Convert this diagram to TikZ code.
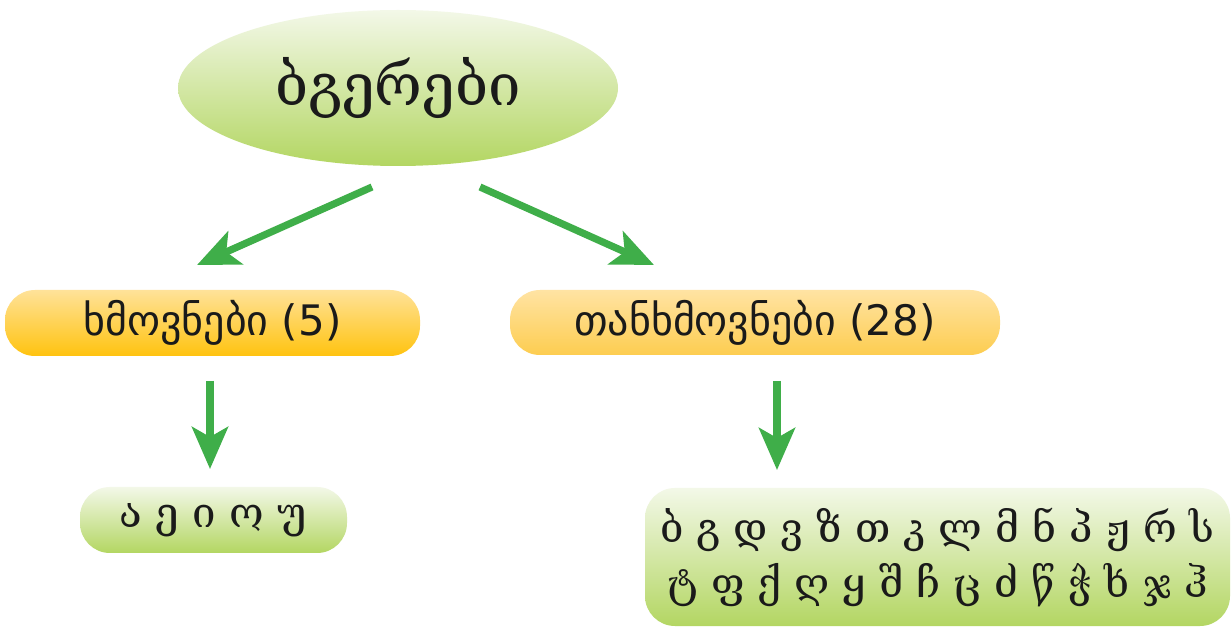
\documentclass[tikz,border=0pt]{standalone}
\usepackage{fontspec}
\setmainfont{DejaVu Serif}
\newfontfamily\midfont{DejaVu Sans}
\usetikzlibrary{shapes.geometric,arrows.meta}
\definecolor{arrgreen}{HTML}{3FAE49}
\definecolor{gtop}{HTML}{F3F8E8}
\definecolor{gbot}{HTML}{B3D662}
\definecolor{ytop}{HTML}{FFE299}
\definecolor{ybot}{HTML}{FFC30F}
\definecolor{y2top}{HTML}{FFE3A3}
\definecolor{y2bot}{HTML}{FDCD50}
\definecolor{ink}{HTML}{1A1A1A}
\tikzset{
  arr/.style={draw=arrgreen, line width=3.6pt, -{Stealth[length=21pt,width=18pt,inset=5pt]}},
  ybox/.style={rounded corners=15pt, top color=ytop, bottom color=ybot, text=ink, inner sep=0pt},
  y2box/.style={rounded corners=15pt, top color=y2top, bottom color=y2bot, text=ink, inner sep=0pt},
  gbox/.style={rounded corners=15pt, top color=gtop, bottom color=gbot, text=ink, inner sep=0pt},
}
\begin{document}
\begin{tikzpicture}[x=0.5pt,y=-0.5pt]
\useasboundingbox (0,0) rectangle (1232,630);
\fill[white] (0,0) rectangle (1232,630);
\node[ellipse, top color=gtop, bottom color=gbot, minimum width=220pt, minimum height=78pt, inner sep=0pt, text=ink, font=\fontsize{29}{34}\selectfont] (top) at (398,88) {ბგერები};
\node[ybox, minimum width=207.5pt, minimum height=33pt, font=\midfont\fontsize{21}{24}\selectfont] (vow) at (212.5,323) {ხმოვნები (5)};
\node[y2box, minimum width=245pt, minimum height=32.5pt, font=\midfont\fontsize{21}{24}\selectfont] (cons) at (755,322.5) {თანხმოვნები (28)};
\node[gbox, minimum width=133.5pt, minimum height=33pt, font=\fontsize{21}{24}\selectfont] (vl) at (213.5,520) {ა ე ი ო უ};
\node[gbox, minimum width=292.5pt, minimum height=69pt, align=center, font=\fontsize{20.5}{27.5}\selectfont] (cl) at (937.5,557) {ბ გ დ ვ ზ თ კ ლ მ ნ პ ჟ რ ს\\ ტ ფ ქ ღ ყ შ ჩ ც ძ წ ჭ ხ ჯ ჰ};
\coordinate (a1s) at (372,187);
\coordinate (a1e) at (197,265);
\coordinate (a2s) at (480,187);
\coordinate (a2e) at (654,265);
\coordinate (a3s) at (210,381);
\coordinate (a3e) at (210,469);
\coordinate (a4s) at (777,381);
\coordinate (a4e) at (777,470);
\draw[arr] (a1s) -- (a1e);
\draw[arr] (a2s) -- (a2e);
\draw[arr] (a3s) -- (a3e);
\draw[arr] (a4s) -- (a4e);
\end{tikzpicture}
\end{document}
